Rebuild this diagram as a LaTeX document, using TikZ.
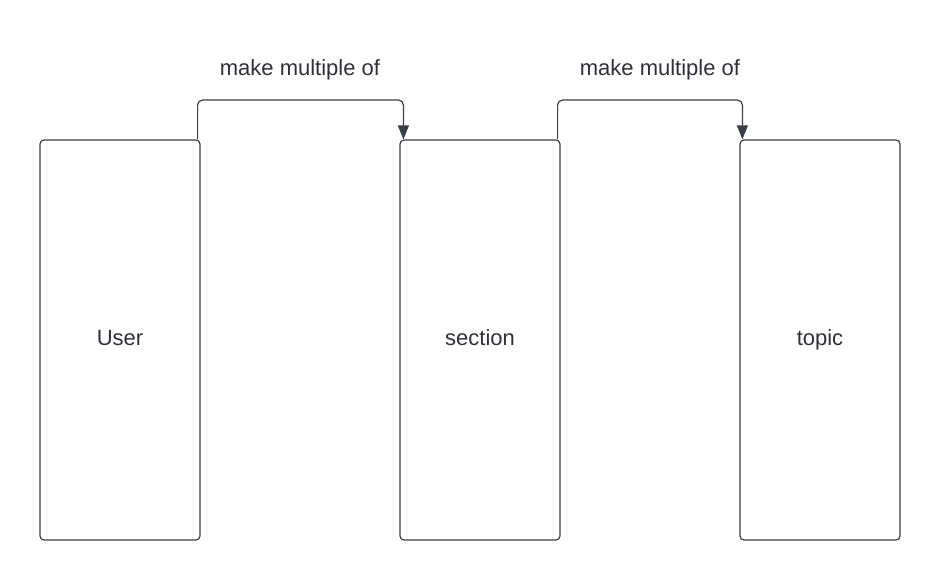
\documentclass[tikz,border=0pt]{standalone}
\usepackage{fontspec}
\setmainfont{Liberation Sans}
\usetikzlibrary{arrows.meta}
\definecolor{linegray}{HTML}{3A3E47}
\definecolor{textgray}{HTML}{2E3138}
\tikzset{
  entity/.style={draw=linegray, line width=1.2pt, rounded corners=4pt,
    minimum width=160pt, minimum height=400pt, inner sep=0pt,
    text height=16pt, text depth=5pt,
    text=textgray, font=\fontsize{22}{26}\selectfont},
  relation/.style={draw=linegray, line width=1.2pt, rounded corners=5pt,
    -{Triangle[width=11pt,length=14pt]}},
  relabel/.style={text=textgray, font=\fontsize{22}{26}\selectfont}
}
\begin{document}
\begin{tikzpicture}[x=1pt, y=-1pt]
            \useasboundingbox (0,0) rectangle (940,580);
            \node[entity] (user) at (120,340) {User};
            \node[entity] (section) at (480,340) {section};
            \node[entity] (topic) at (820,340) {topic};

            \coordinate (u1) at ([xshift=-3pt]user.north east);
            \coordinate (s1) at ([xshift=4pt]section.north west);
            \draw[relation] (u1) |- (300,100) -| (s1);
            \node[relabel] (lab1) at (300,69.5) {make multiple of};

            \coordinate (s2) at ([xshift=-3pt]section.north east);
            \coordinate (t1) at ([xshift=3pt]topic.north west);
            \draw[relation] (s2) |- (650,100) -| (t1);
            \node[relabel] (lab2) at (660,69.5) {make multiple of};
        \end{tikzpicture}
\end{document}
